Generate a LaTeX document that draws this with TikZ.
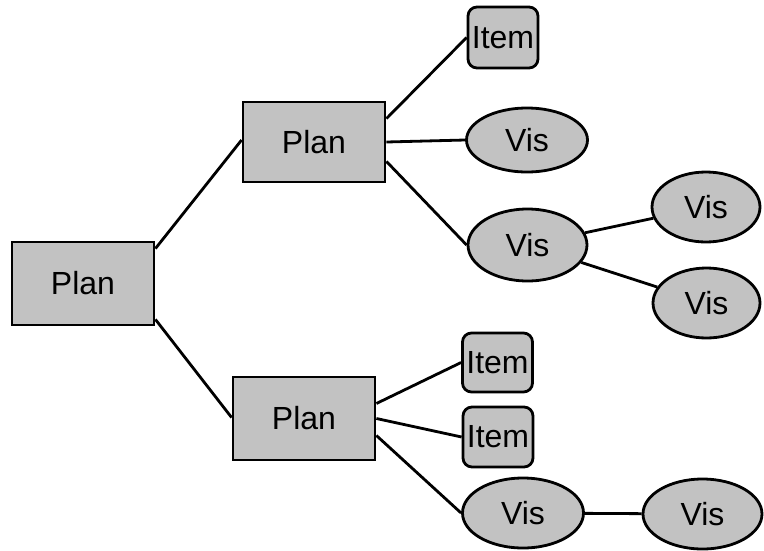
\documentclass[tikz,border=0pt]{standalone}
\usepackage{fontspec}
\setmainfont{Liberation Sans}
\usetikzlibrary{shapes.geometric,calc}
\definecolor{fillgray}{gray}{0.76}
\begin{document}
\begin{tikzpicture}[x=1pt,y=-1pt,
  base/.style={draw=black,line width=2.8pt,fill=fillgray,inner sep=0pt,font=\fontsize{32}{34}\selectfont},
  planbox/.style={base,rectangle},
  itembox/.style={base,rectangle,rounded corners=9pt,minimum width=70pt,minimum height=60pt},
  visbox/.style={base,ellipse},
  conn/.style={line width=2.8pt}]
\useasboundingbox (0,0) rectangle (764,550);
\node[planbox,minimum width=142pt,minimum height=83pt] (root) at (83,283.5) {Plan};
\node[planbox,minimum width=142pt,minimum height=80pt] (p1) at (314,142) {Plan};
\node[planbox,minimum width=142pt,minimum height=83pt] (p2) at (304,418.5) {Plan};
\node[itembox,minimum height=61pt] (i1) at (503,37.5) {Item};
\node[visbox,minimum width=121pt,minimum height=64pt] (v1) at (527,140) {Vis};
\node[visbox,minimum width=119pt,minimum height=72pt] (v2) at (527.5,245) {Vis};
\node[visbox,minimum width=108pt,minimum height=70pt] (v3) at (706,207) {Vis};
\node[visbox,minimum width=107pt,minimum height=70pt] (v4) at (706.5,303) {Vis};
\node[itembox,minimum height=59pt] (i2) at (497.5,362.5) {Item};
\node[itembox] (i3) at (498,437) {Item};
\node[visbox,minimum width=121pt,minimum height=70pt] (v5) at (523,513) {Vis};
\node[visbox,minimum width=119pt,minimum height=70pt] (v6) at (702.5,514) {Vis};
\draw[conn] ($(root.north east)+(0,8)$) -- ($(p1.west)+(0,-2)$);
\draw[conn] ($(root.south east)+(0,-7)$) -- ($(p2.west)+(0,-1)$);
\draw[conn] ($(p1.north east)+(0,18)$) -- (i1.west);
\draw[conn] (p1.east) -- (v1.west);
\draw[conn] ($(p1.south east)+(0,-22)$) -- (v2.west);
\draw[conn] (v2) -- (v3);
\draw[conn] (v2) -- (v4);
\draw[conn] ($(p2.east)+(0,-15)$) -- (i2.west);
\draw[conn] (p2.east) -- (i3.west);
\draw[conn] ($(p2.east)+(0,17)$) -- (v5.west);
\draw[conn] (v5) -- (v6);
\end{tikzpicture}
\end{document}
